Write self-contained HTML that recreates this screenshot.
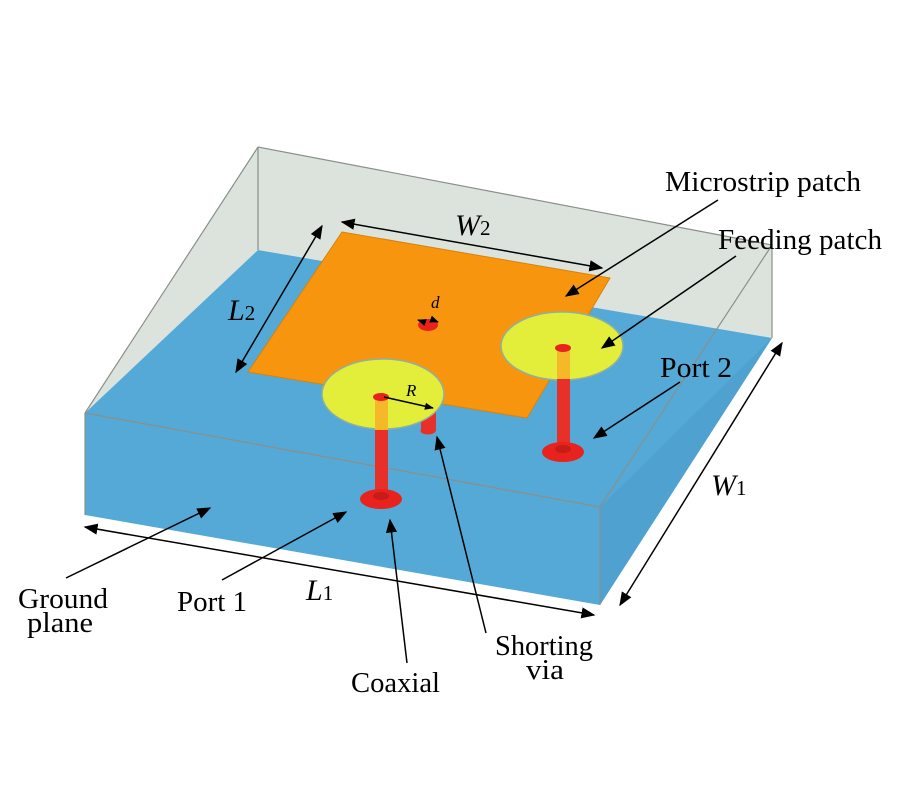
<!DOCTYPE html>
<html><head><meta charset="utf-8"><style>
html,body{margin:0;padding:0;background:#fff;}
svg{display:block;}
text{font-family:"Liberation Serif",serif;fill:#000;}
</style></head><body>
<svg width="900" height="800" viewBox="0 0 900 800" xmlns="http://www.w3.org/2000/svg">
<defs>
<marker id="a" viewBox="0 0 10 10" refX="9" refY="5" markerWidth="9" markerHeight="9" orient="auto-start-reverse" markerUnits="userSpaceOnUse"><path d="M0,1 L10,5 L0,9 z" fill="#000"/></marker>
<marker id="b" viewBox="0 0 10 10" refX="9" refY="5" markerWidth="14" markerHeight="14" orient="auto-start-reverse" markerUnits="userSpaceOnUse"><path d="M0,1 L10,5 L0,9 z" fill="#000"/></marker>
</defs>
<polygon points="258,147 772,245 772,338 258,250" fill="#dce3dc"/>
<polygon points="258,147 258,250 85,413" fill="#dce3dc"/>
<polygon points="772,245 772,338 600,507" fill="#dce3dc"/>
<polygon points="258,250 772,338 600,605 85,515 85,413" fill="#55a9d6"/>
<polygon points="600,507 772,338 600,605" fill="#4fa1cf"/>
<g stroke="#8a8f8a" stroke-width="1.2" fill="none">
<polyline points="85,413 258,147 772,245 600,507 85,413"/>
<line x1="258" y1="147" x2="258" y2="250"/>
<line x1="772" y1="245" x2="772" y2="338"/>
<line x1="85" y1="413" x2="85" y2="515"/>
<line x1="600" y1="507" x2="600" y2="605"/>
</g>
<polygon points="342,232 610,278 527,418 248,372" fill="#f7960e" stroke="#d9820a" stroke-width="1"/>
<ellipse cx="428" cy="325" rx="10" ry="6" fill="#e8221c"/>
<rect x="421" y="395" width="15" height="36" fill="#e8302a"/>
<ellipse cx="428" cy="431" rx="7.5" ry="3.5" fill="#e8302a"/>
<ellipse cx="383" cy="394" rx="61" ry="35" fill="#e3ee3a" stroke="#8fb0a0" stroke-width="1.5"/>
<rect x="375" y="398" width="13" height="98" fill="#e8302a"/>
<rect x="375" y="398" width="13" height="32" fill="#f5b828"/>
<ellipse cx="381" cy="397" rx="8" ry="4" fill="#e8221c"/>
<ellipse cx="381" cy="499" rx="21" ry="10" fill="#e8221c"/>
<ellipse cx="381" cy="496" rx="8" ry="4" fill="#c81c18"/>
<ellipse cx="562" cy="346" rx="61" ry="34" fill="#e3ee3a" stroke="#8fb0a0" stroke-width="1.5"/>
<rect x="557" y="349" width="13" height="101" fill="#e8302a"/>
<rect x="557" y="349" width="13" height="30" fill="#f5b828"/>
<ellipse cx="563" cy="348" rx="8" ry="4" fill="#e8221c"/>
<ellipse cx="563" cy="452" rx="21" ry="10" fill="#e8221c"/>
<ellipse cx="563" cy="449" rx="8" ry="4" fill="#c81c18"/>
<g stroke="#000" stroke-width="1.5" fill="none">
<line x1="342" y1="222" x2="602" y2="268" marker-start="url(#b)" marker-end="url(#b)"/>
<line x1="322" y1="226" x2="236" y2="372" marker-start="url(#b)" marker-end="url(#b)"/>
<line x1="85" y1="527" x2="594" y2="615" marker-start="url(#b)" marker-end="url(#b)"/>
<line x1="782" y1="343" x2="620" y2="605" marker-start="url(#b)" marker-end="url(#b)"/>
<line x1="384" y1="397" x2="433" y2="408" marker-end="url(#a)"/>
<line x1="418" y1="320" x2="424" y2="322" marker-start="url(#a)"/>
<line x1="438" y1="322" x2="433" y2="320" marker-start="url(#a)"/>
<line x1="718" y1="200" x2="566" y2="296" marker-end="url(#b)"/>
<line x1="736" y1="256" x2="602" y2="348" marker-end="url(#b)"/>
<line x1="680" y1="382" x2="594" y2="438" marker-end="url(#b)"/>
<line x1="222" y1="580" x2="346" y2="512" marker-end="url(#b)"/>
<line x1="66" y1="578" x2="210" y2="508" marker-end="url(#b)"/>
<line x1="407" y1="663" x2="390" y2="520" marker-end="url(#b)"/>
<line x1="486" y1="633" x2="437" y2="437" marker-end="url(#b)"/>
</g>
<text x="665" y="191" font-size="28" textLength="196" lengthAdjust="spacingAndGlyphs">Microstrip patch</text>
<text x="718" y="249" font-size="28" textLength="164" lengthAdjust="spacingAndGlyphs">Feeding patch</text>
<text x="660" y="377" font-size="28" textLength="72" lengthAdjust="spacingAndGlyphs">Port 2</text>
<text x="711" y="495" font-size="30" font-style="italic">W<tspan font-size="21" font-style="normal">1</tspan></text>
<text x="455" y="235" font-size="30" font-style="italic">W<tspan font-size="21" font-style="normal">2</tspan></text>
<text x="228" y="320" font-size="30" font-style="italic">L<tspan font-size="21" font-style="normal">2</tspan></text>
<text x="306" y="600" font-size="30" font-style="italic">L<tspan font-size="21" font-style="normal">1</tspan></text>
<text x="406" y="396" font-size="17" font-style="italic">R</text>
<text x="431" y="308" font-size="17" font-style="italic">d</text>
<text x="177" y="611" font-size="28" textLength="70" lengthAdjust="spacingAndGlyphs">Port 1</text>
<text x="18" y="608" font-size="28" textLength="90" lengthAdjust="spacingAndGlyphs">Ground</text>
<text x="27" y="632" font-size="28" textLength="66" lengthAdjust="spacingAndGlyphs">plane</text>
<text x="351" y="692" font-size="28" textLength="89" lengthAdjust="spacingAndGlyphs">Coaxial</text>
<text x="495" y="655" font-size="28" textLength="98" lengthAdjust="spacingAndGlyphs">Shorting</text>
<text x="526" y="679" font-size="28" textLength="38" lengthAdjust="spacingAndGlyphs">via</text>
</svg>
</body></html>
